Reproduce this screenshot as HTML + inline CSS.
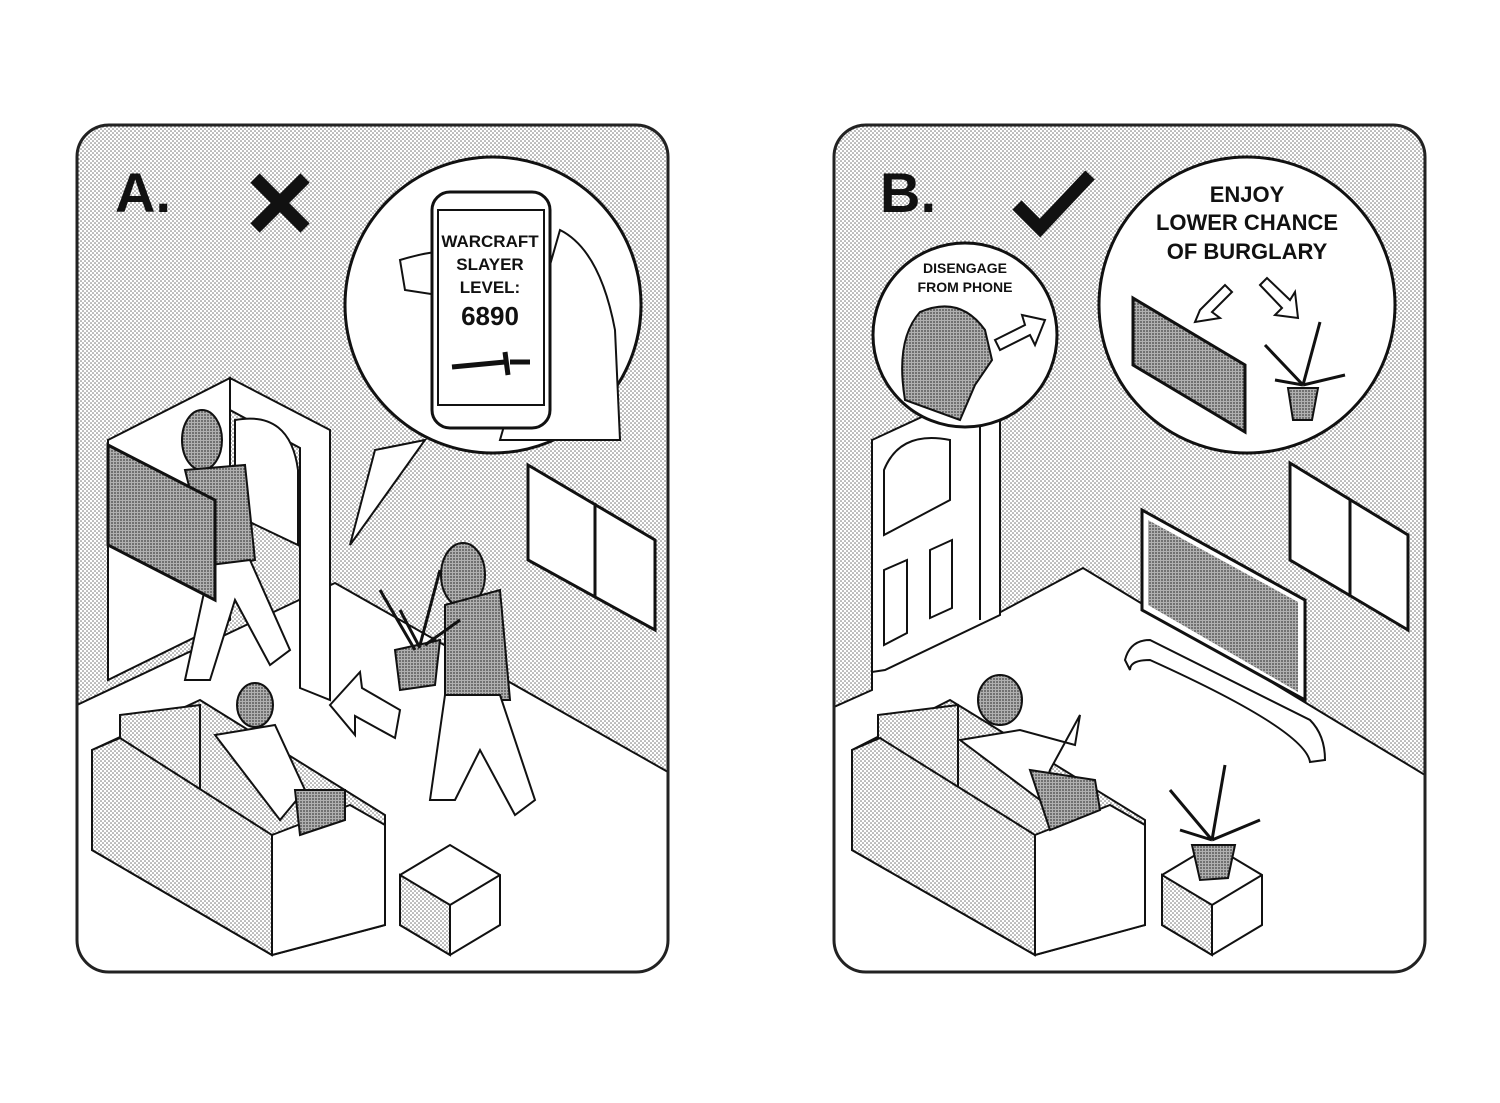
<!DOCTYPE html>
<html><head><meta charset="utf-8"><style>
html,body{margin:0;padding:0;background:#fff;width:1500px;height:1103px;overflow:hidden}
svg text{font-family:"Liberation Sans",sans-serif;font-weight:bold;fill:#111}
</style></head><body>
<svg width="1500" height="1103" viewBox="0 0 1500 1103" xmlns="http://www.w3.org/2000/svg">
<defs>
<pattern id="d" width="4" height="4" patternUnits="userSpaceOnUse"><rect width="4" height="4" fill="#fff"/><circle cx="1" cy="1" r="0.75" fill="#666"/><circle cx="3" cy="3" r="0.75" fill="#666"/></pattern>
<pattern id="g" width="3" height="3" patternUnits="userSpaceOnUse"><rect width="3" height="3" fill="#b0b0b0"/><circle cx="1" cy="1" r="0.9" fill="#444"/></pattern>
<clipPath id="ca"><rect x="77" y="125" width="591" height="847" rx="32"/></clipPath>
<clipPath id="cb"><rect x="834" y="125" width="591" height="847" rx="32"/></clipPath>
</defs>
<!-- Panel A -->
<g clip-path="url(#ca)">
<rect x="77" y="125" width="591" height="847" fill="url(#d)"/>
<polygon points="77,705 335,583 668,772 668,972 77,972" fill="#fff" stroke="#111" stroke-width="2"/>
<!-- doorway -->
<polygon points="108,440 230,378 230,620 108,680" fill="#fff" stroke="#111" stroke-width="2"/>
<!-- door leaf -->
<polygon points="230,378 330,430 330,700 300,688 300,448 230,410" fill="#fff" stroke="#111" stroke-width="2"/>
<path d="M235,420 Q290,410 298,470 L298,545 L235,515 Z" fill="#fff" stroke="#111" stroke-width="2"/>
<!-- window -->
<polygon points="528,465 655,540 655,630 528,560" fill="#fff" stroke="#111" stroke-width="3"/>
<line x1="595" y1="503" x2="595" y2="598" stroke="#111" stroke-width="3"/>
<!-- burglar 1 -->
<ellipse cx="202" cy="440" rx="20" ry="30" fill="url(#g)" stroke="#111" stroke-width="2"/>
<path d="M185,470 L245,465 L255,560 L210,570 Z" fill="url(#g)" stroke="#111" stroke-width="2"/>
<path d="M210,565 L250,560 L290,650 L270,665 L235,600 L210,680 L185,680 Z" fill="#fff" stroke="#111" stroke-width="2"/>
<!-- burglar 2 -->
<ellipse cx="463" cy="575" rx="22" ry="32" fill="url(#g)" stroke="#111" stroke-width="2"/>
<path d="M445,605 L500,590 L510,700 L445,700 Z" fill="url(#g)" stroke="#111" stroke-width="2"/>
<path d="M445,695 L500,695 L535,800 L515,815 L480,750 L455,800 L430,800 Z" fill="#fff" stroke="#111" stroke-width="2"/>
<path d="M395,650 L440,640 L435,685 L400,690 Z" fill="url(#g)" stroke="#111" stroke-width="2"/>
<path d="M415,650 L380,590 M420,645 L440,570 M420,648 L400,610 M425,645 L460,620" stroke="#111" stroke-width="3" fill="none"/>
<!-- arrow -->
<polygon points="330,705 360,672 362,688 400,710 395,738 355,716 355,735" fill="#fff" stroke="#111" stroke-width="2"/>
<!-- sofa -->
<polygon points="92,750 200,700 385,815 385,925 272,955 92,850" fill="url(#d)" stroke="#111" stroke-width="2"/>
<polygon points="120,715 200,705 200,790 120,780" fill="url(#d)" stroke="#111" stroke-width="2"/>
<polygon points="92,750 120,738 272,835 272,955 92,850" fill="url(#d)" stroke="#111" stroke-width="2"/>
<polygon points="272,835 350,805 385,825 385,925 272,955" fill="#fff" stroke="#111" stroke-width="2"/>
<ellipse cx="255" cy="705" rx="18" ry="22" fill="url(#g)" stroke="#111" stroke-width="2"/>
<path d="M215,735 L275,725 L305,790 L280,820 Z" fill="#fff" stroke="#111" stroke-width="2"/>
<path d="M295,790 L345,790 L345,820 L300,835 Z" fill="url(#g)" stroke="#111" stroke-width="2"/>
<!-- box -->
<polygon points="400,875 450,845 500,875 500,925 450,955 400,925" fill="#fff" stroke="#111" stroke-width="2"/>
<polygon points="400,875 450,905 450,955 400,925" fill="url(#d)" stroke="#111" stroke-width="2"/>
<polyline points="450,905 500,875" fill="none" stroke="#111" stroke-width="2"/>
<!-- TV -->
<polygon points="108,445 215,500 215,600 108,545" fill="url(#g)" stroke="#111" stroke-width="3"/>
<!-- speech bubble -->
<polygon points="350,545 375,450 425,440" fill="#fff" stroke="#111" stroke-width="2"/>
<circle cx="493" cy="305" r="148" fill="#fff" stroke="#111" stroke-width="3"/>
<path d="M400,260 Q450,245 470,255 L470,300 L405,290 Z M560,230 Q600,250 615,330 L620,440 L500,440 Z" fill="#fff" stroke="#111" stroke-width="2"/>
<rect x="432" y="192" width="118" height="236" rx="18" fill="#fff" stroke="#111" stroke-width="3"/>
<rect x="438" y="210" width="106" height="195" fill="#fff" stroke="#111" stroke-width="2"/>
<text x="490" y="247" font-size="17" text-anchor="middle">WARCRAFT</text>
<text x="490" y="270" font-size="17" text-anchor="middle">SLAYER</text>
<text x="490" y="293" font-size="17" text-anchor="middle">LEVEL:</text>
<text x="490" y="325" font-size="26" text-anchor="middle">6890</text>
<path d="M452,367 L505,362 M505,352 L508,375 M510,362 L530,362" stroke="#111" stroke-width="5"/>
</g>
<rect x="77" y="125" width="591" height="847" rx="32" fill="none" stroke="#222" stroke-width="3"/>
<text x="115" y="212" font-size="56">A.</text>
<path d="M255,178 L305,228 M305,178 L255,228" stroke="#111" stroke-width="13"/>

<!-- Panel B -->
<g clip-path="url(#cb)">
<rect x="834" y="125" width="591" height="847" fill="url(#d)"/>
<polygon points="834,707 872,690 872,672 995,615 995,615 1083,568 1425,775 1425,972 834,972" fill="#fff" stroke="#111" stroke-width="2"/>
<polygon points="872,440 980,390 1000,395 1000,615 885,670 872,672" fill="#fff" stroke="#111" stroke-width="2"/>
<path d="M884,535 L884,470 Q900,430 950,440 L950,500 Z" fill="#fff" stroke="#111" stroke-width="2"/>
<polygon points="884,570 907,560 907,633 884,645" fill="#fff" stroke="#111" stroke-width="2"/>
<polygon points="930,550 952,540 952,608 930,618" fill="#fff" stroke="#111" stroke-width="2"/>
<line x1="980" y1="390" x2="980" y2="620" stroke="#111" stroke-width="2"/>
<polygon points="1290,463 1408,535 1408,630 1290,560" fill="#fff" stroke="#111" stroke-width="3"/>
<line x1="1350" y1="500" x2="1350" y2="596" stroke="#111" stroke-width="3"/>
<path d="M1125,660 Q1130,640 1150,640 L1310,720 Q1325,735 1325,760 L1310,762 Q1305,730 1150,660 Q1130,660 1130,670 Z" fill="#fff" stroke="#111" stroke-width="2"/>
<polygon points="1142,510 1305,600 1305,700 1142,610" fill="#fff" stroke="#111" stroke-width="3"/>
<polygon points="1148,520 1298,602 1298,692 1148,605" fill="url(#g)"/>
<polygon points="852,750 950,700 1145,820 1145,925 1035,955 852,850" fill="url(#d)" stroke="#111" stroke-width="2"/>
<polygon points="878,715 958,705 958,790 878,780" fill="url(#d)" stroke="#111" stroke-width="2"/>
<polygon points="852,750 880,738 1035,835 1035,955 852,850" fill="url(#d)" stroke="#111" stroke-width="2"/>
<polygon points="1035,835 1110,805 1145,825 1145,925 1035,955" fill="#fff" stroke="#111" stroke-width="2"/>
<ellipse cx="1000" cy="700" rx="22" ry="25" fill="url(#g)" stroke="#111" stroke-width="2"/>
<path d="M960,740 L1020,730 L1075,745 L1080,715 L1050,770 L1040,800 Z" fill="#fff" stroke="#111" stroke-width="2"/>
<path d="M1030,770 L1095,780 L1100,810 L1050,830 Z" fill="url(#g)" stroke="#111" stroke-width="2"/>
<polygon points="1162,875 1212,845 1262,875 1262,925 1212,955 1162,925" fill="#fff" stroke="#111" stroke-width="2"/>
<polygon points="1162,875 1212,905 1212,955 1162,925" fill="url(#d)" stroke="#111" stroke-width="2"/>
<polyline points="1212,905 1262,875" fill="none" stroke="#111" stroke-width="2"/>
<path d="M1192,845 L1235,845 L1228,878 L1200,880 Z" fill="url(#g)" stroke="#111" stroke-width="2"/>
<path d="M1212,840 L1170,790 M1212,840 L1225,765 M1212,840 L1260,820 M1212,840 L1180,830" stroke="#111" stroke-width="3" fill="none"/>
<circle cx="965" cy="335" r="92" fill="#fff" stroke="#111" stroke-width="3"/>
<text x="965" y="273" font-size="14" text-anchor="middle">DISENGAGE</text>
<text x="965" y="292" font-size="14" text-anchor="middle">FROM PHONE</text>
<path d="M905,400 Q895,340 920,312 Q960,295 985,330 L992,360 L975,385 L960,420 Z" fill="url(#g)" stroke="#111" stroke-width="2"/>
<polygon points="995,340 1025,325 1022,315 1045,320 1035,345 1030,335 1000,350" fill="#fff" stroke="#111" stroke-width="2"/>
<circle cx="1247" cy="305" r="148" fill="#fff" stroke="#111" stroke-width="3"/>
<text x="1247" y="202" font-size="22" text-anchor="middle">ENJOY</text>
<text x="1247" y="230" font-size="22" text-anchor="middle">LOWER CHANCE</text>
<text x="1247" y="259" font-size="22" text-anchor="middle">OF BURGLARY</text>
<polygon points="1133,298 1245,365 1245,432 1133,365" fill="url(#g)" stroke="#111" stroke-width="3"/>
<polygon points="1200,310 1225,285 1232,292 1212,312 1220,318 1195,322" fill="#fff" stroke="#111" stroke-width="2"/>
<polygon points="1260,285 1267,278 1290,300 1295,292 1298,318 1275,315 1282,308" fill="#fff" stroke="#111" stroke-width="2"/>
<path d="M1288,388 L1318,388 L1312,420 L1293,420 Z" fill="url(#g)" stroke="#111" stroke-width="2"/>
<path d="M1303,385 L1265,345 M1303,385 L1320,322 M1303,385 L1345,375 M1303,385 L1275,380" stroke="#111" stroke-width="3" fill="none"/>
</g>
<rect x="834" y="125" width="591" height="847" rx="32" fill="none" stroke="#222" stroke-width="3"/>
<text x="880" y="212" font-size="56">B.</text>
<path d="M1017,205 L1040,228 L1090,175" stroke="#111" stroke-width="13" fill="none"/>
</svg>
</body></html>
